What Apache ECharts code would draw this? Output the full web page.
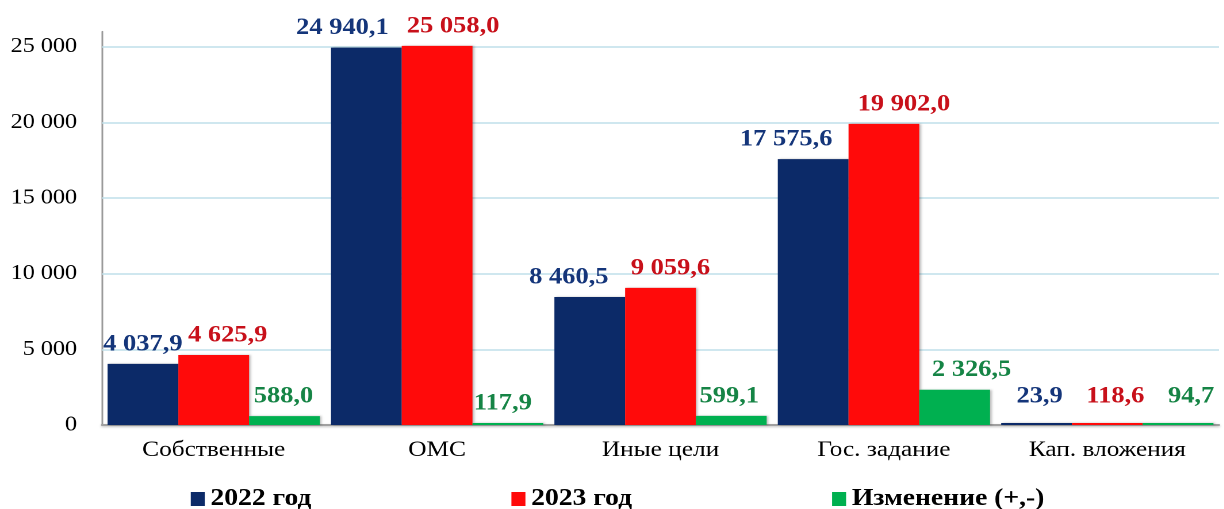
<!DOCTYPE html>
<html>
<head>
<meta charset="utf-8">
<script src="https://cdn.jsdelivr.net/npm/echarts@6/dist/echarts.min.js"></script>
<style>
  html, body { margin: 0; padding: 0; background: #ffffff; overflow: hidden; }
  /* The chart is laid out on a narrower canvas and widened horizontally,
     giving the wide serif lettering of the original slide. */
  #wrap { width: 1224px; height: 509px; overflow: hidden; }
  #chart { height: 509px; transform-origin: 0 0; }
</style>
</head>
<body>
<div id="wrap"><div id="chart"></div></div>
<script>
// Categories of funding
const categories = ['Собственные', 'ОМС', 'Иные цели', 'Гос. задание', 'Кап. вложения'];
// Series names
const seriesNames = ['2022 год', '2023 год', 'Изменение (+,-)'];
// Values, thousand rubles
const values2022 = [4037.9, 24940.1, 8460.5, 17575.6, 23.9];
const values2023 = [4625.9, 25058.0, 9059.6, 19902.0, 118.6];
const valuesChange = [588.0, 117.9, 599.1, 2326.5, 94.7];
// Value axis gridlines
const gridValues = [5000, 10000, 15000, 20000, 25000];

// Horizontal widening factor and page size
const STRETCH = 1.15;
const PAGE_W = 1224;
const W = PAGE_W / STRETCH;
const sx = px => px / STRETCH;   // page pixels -> chart pixels (horizontal)

// Hand-placed label nudges [dx, dy] in page pixels, per series and category
const labelNudges = [
  [[0, 0], [-24, 0], [-21, 0], [-27, 0], [3, -7]],
  [[14, 0], [16, 0], [10, 0], [20, 0], [8, -7]],
  [[-1, 0], [-5, 0], [-2, 0], [17, 0], [13, -7]]
];

const FONT = '"Liberation Serif", "Times New Roman", serif';
const barColors = ['#0c2a68', '#ff0a0a', '#00b050'];
const labelColors = ['#14357a', '#c8101a', '#158445'];

function groupThousands(intStr) {
  return intStr.replace(/\B(?=(\d{3})+(?!\d))/g, ' ');
}
function fmtValue(v) {
  const parts = v.toFixed(1).split('.');
  return groupThousands(parts[0]) + ',' + parts[1];
}
function fmtTick(v) {
  if (v % 5000 !== 0) return '';
  return groupThousands(String(v));
}

const allValues = [values2022, values2023, valuesChange];

const series = allValues.map((data, i) => {
  const s = {
    name: seriesNames[i],
    type: 'bar',
    data: data.map((v, j) => ({
      value: v,
      label: { offset: [sx(labelNudges[i][j][0]), labelNudges[i][j][1]] }
    })),
    barGap: '0%',
    barCategoryGap: '5%',
    barMinHeight: 2,
    z: 2,
    itemStyle: {
      color: barColors[i],
      shadowColor: 'rgba(0,0,0,0.25)',
      shadowBlur: 2,
      shadowOffsetX: 1.5,
      shadowOffsetY: 0
    },
    label: {
      show: true,
      position: 'top',
      distance: 8,
      formatter: p => fmtValue(p.value),
      color: labelColors[i],
      fontFamily: FONT,
      fontWeight: 'bold',
      fontSize: 23
    }
  };
  if (i === 0) {
    s.markLine = {
      silent: true,
      z: 1,
      symbol: 'none',
      label: { show: false },
      lineStyle: { color: '#bfe0ea', type: 'solid', width: 1.5 },
      emphasis: { disabled: true },
      animation: false,
      data: gridValues.map(v => ({ yAxis: v }))
    };
  }
  return s;
});

const el = document.getElementById('chart');
el.style.width = W + 'px';
el.style.transform = 'scaleX(' + STRETCH + ')';

const chart = echarts.init(el, null, { renderer: 'canvas', devicePixelRatio: 2, width: W, height: 509 });
chart.setOption({
  animation: false,
  backgroundColor: '#ffffff',
  grid: { left: sx(102), right: sx(5), top: 31.6, bottom: 84, containLabel: false },
  legend: {
    left: sx(185),
    top: 482,
    itemWidth: sx(14),
    itemHeight: 14,
    itemGap: sx(200),
    icon: 'rect',
    textStyle: { fontFamily: FONT, fontWeight: 'bold', fontSize: 24, color: '#000000' },
    data: seriesNames
  },
  xAxis: {
    type: 'category',
    data: categories,
    axisTick: { show: false },
    axisLine: {
      show: true,
      lineStyle: { color: '#a0a0a0', width: 2, shadowColor: 'rgba(0,0,0,0.25)', shadowBlur: 2, shadowOffsetY: 1 }
    },
    axisLabel: { fontFamily: FONT, fontSize: 22, color: '#000000', margin: 14 }
  },
  yAxis: {
    type: 'value',
    min: 0,
    max: 26000,
    interval: 5000,
    splitLine: { show: false },
    axisTick: { show: false },
    axisLine: { show: true, lineStyle: { color: '#9a9a9a', width: 1.5 } },
    axisLabel: { fontFamily: FONT, fontSize: 21, color: '#000000', margin: sx(25), formatter: fmtTick }
  },
  series: series
});
</script>
</body>
</html>
